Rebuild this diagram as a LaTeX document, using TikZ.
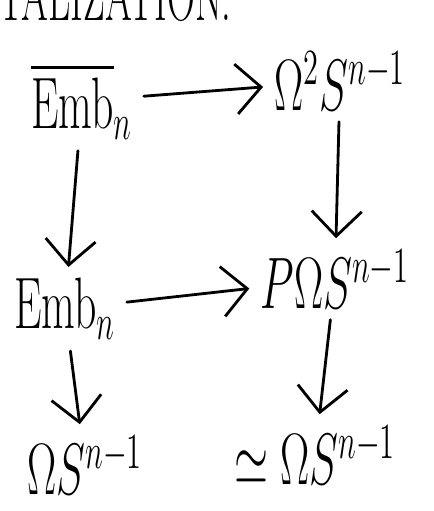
\documentclass[tikz,border=0pt]{standalone}
\usepackage{amsmath, amssymb}
\usetikzlibrary{arrows.meta, positioning}

\newcommand{\narrow}[1]{\scalebox{0.6}[1]{#1}}

\begin{document}
\begin{tikzpicture}[
    space/.style={inner sep=3pt, font=\fontsize{22}{26}\selectfont},
    arrow/.style={->, >={Straight Barb[length=2.5mm, width=5mm]}, thick, line cap=round},
]
\useasboundingbox (0,0) rectangle (4.34,5.11);

% Heading, cut off at the top of the sheet
\begin{scope}
\clip (0,0) rectangle (4.34,5.11);
\node[anchor=base west, inner sep=0pt, font=\fontsize{20}{24}\selectfont] (title) at (-0.02,4.90) {\scalebox{0.55}[1]{TALIZATION.}};
\end{scope}

% Spaces
\node[space] (embbar) at (0.82,4.10) {\narrow{$\overline{\mathrm{Emb}}_n$}};
\node[space] (dloop) at (3.40,4.30) {\narrow{$\Omega^2 S^{n-1}$}};
\node[space] (emb) at (0.65,2.02) {\narrow{$\mathrm{Emb}_n$}};
\node[space] (path) at (3.35,2.32) {\narrow{$P\Omega S^{n-1}$}};
\node[space] (loopl) at (0.85,0.46) {\narrow{$\Omega S^{n-1}$}};
\node[space] (loopr) at (3.15,0.56) {\narrow{$\simeq \Omega S^{n-1}$}};

% Maps
\path[arrow]
    (embbar) edge (dloop)
    (embbar) edge (emb)
    (dloop) edge (path)
    (emb) edge (path)
    (emb) edge (loopl)
    (path) edge (loopr);

\end{tikzpicture}
\end{document}
